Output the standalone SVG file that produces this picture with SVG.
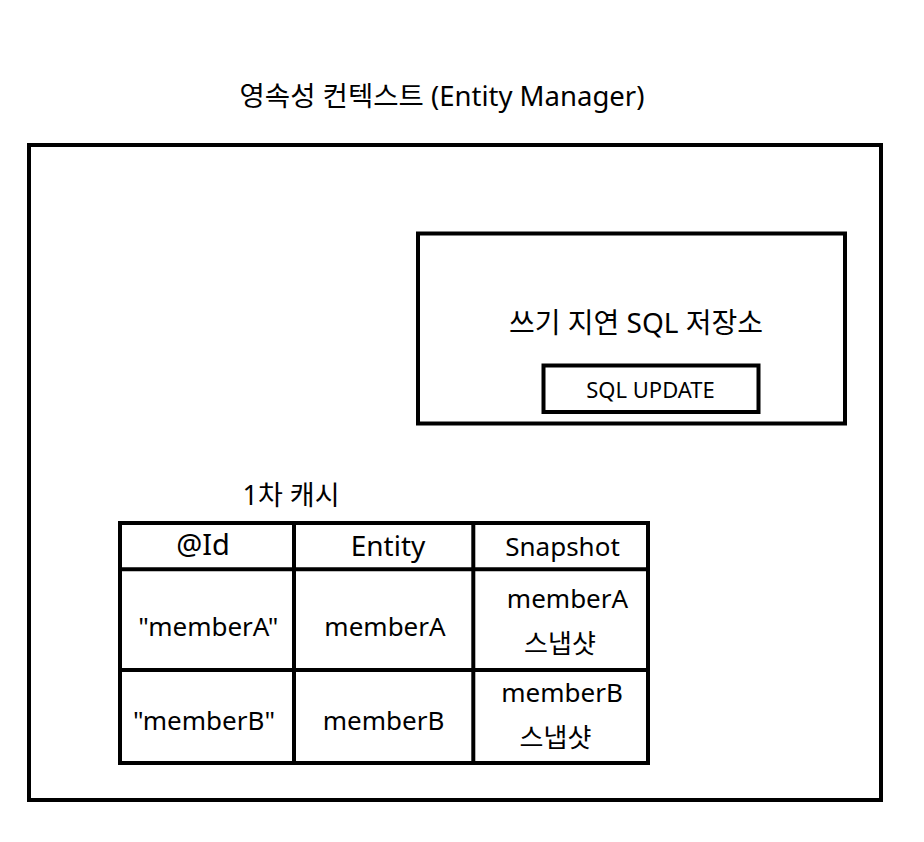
<svg xmlns="http://www.w3.org/2000/svg" width="924" height="842" viewBox="0 0 924 842">
<style>
.box{fill:#fff;stroke:#000;stroke-width:4}
.ln{stroke:#000;stroke-width:4;fill:none}
text{font-family:"Noto Sans","Noto Sans CJK KR",sans-serif;fill:#000;text-anchor:middle}
.t26{font-size:26px}
.t27{font-size:27.5px}
.t28{font-size:28px}
.t22{font-size:22px}
</style>
<rect width="924" height="842" fill="#fff"/>
<g id="title"><text class="t27" x="442" y="106">영속성 컨텍스트 (Entity Manager)</text></g>
<g id="persistence-context"><rect class="box" x="29" y="145" width="852" height="655"/></g>
<g id="write-behind-store">
<rect class="box" x="418" y="233.5" width="427" height="190"/>
<text class="t28" x="636" y="333">쓰기 지연 SQL 저장소</text>
</g>
<g id="sql-update">
<rect class="box" x="543.5" y="365.5" width="215" height="46.5"/>
<text class="t22" x="650.5" y="397.5">SQL UPDATE</text>
</g>
<g id="first-level-cache">
<text class="t26" x="291" y="505" style="font-size:27px">1차 캐시</text>
<rect class="box" x="120" y="523" width="528" height="240"/>
<line class="ln" x1="294" y1="523" x2="294" y2="763"/>
<line class="ln" x1="473.3" y1="523" x2="473.3" y2="763"/>
<line class="ln" x1="120" y1="569.3" x2="648" y2="569.3"/>
<line class="ln" x1="120" y1="670" x2="648" y2="670"/>
<text class="t28" x="203" y="555" style="font-size:29px">@Id</text>
<text class="t28" x="388" y="556">Entity</text>
<text class="t26" x="562.5" y="556">Snapshot</text>
<text class="t26" x="208.3" y="635.7">"memberA"</text>
<text class="t26" x="385" y="635.5">memberA</text>
<text class="t26" x="567.5" y="608.3">memberA</text>
<text class="t26" x="560" y="652.7">스냅샷</text>
<text class="t26" x="204" y="730">"memberB"</text>
<text class="t26" x="383.5" y="730">memberB</text>
<text class="t26" x="562" y="701.7">memberB</text>
<text class="t26" x="555.5" y="746.7">스냅샷</text>
</g>
<g id="connectors"></g>
</svg>
